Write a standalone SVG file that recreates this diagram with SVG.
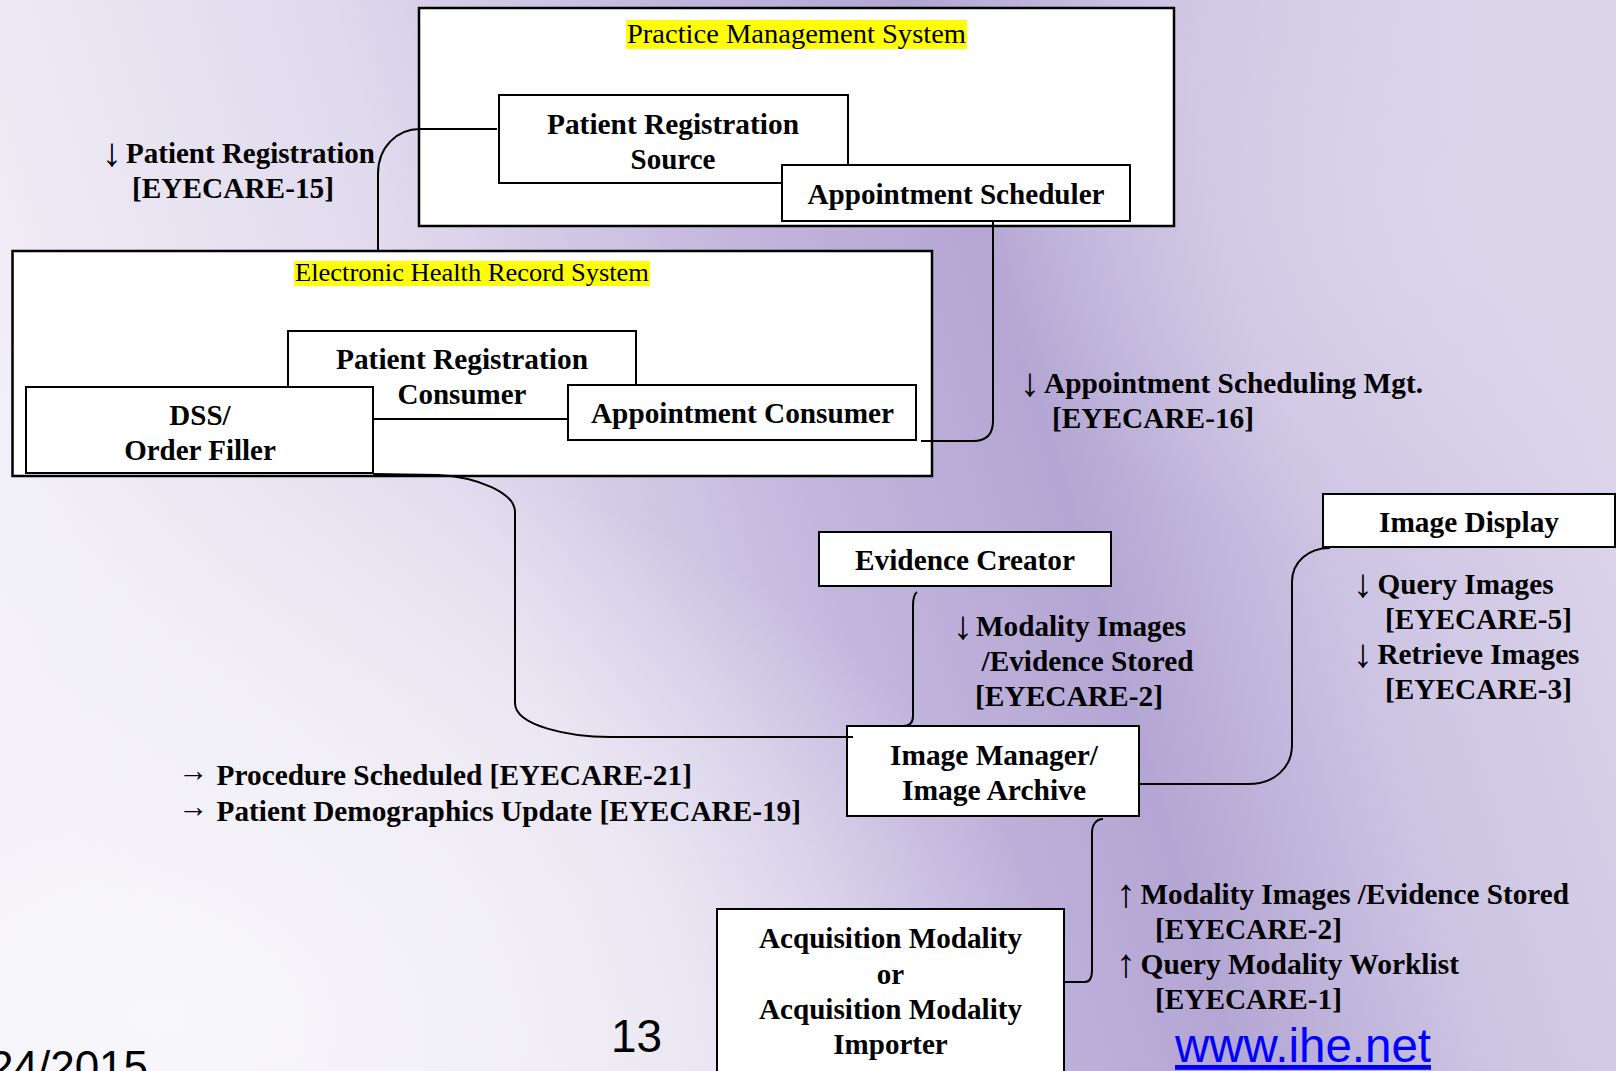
<svg xmlns="http://www.w3.org/2000/svg" width="1616" height="1071" viewBox="0 0 1616 1071">
<defs>
<linearGradient id="bg" x1="0" y1="0.55" x2="1" y2="0.35">
<stop offset="0" stop-color="#f3f1f8"/>
<stop offset="0.3" stop-color="#e0daed"/>
<stop offset="0.5" stop-color="#c2b6dd"/>
<stop offset="0.65" stop-color="#b3a6d4"/>
<stop offset="0.8" stop-color="#cdc4e3"/>
<stop offset="1" stop-color="#dcd5ea"/>
</linearGradient>
<radialGradient id="glow" cx="0.1" cy="0.95" r="0.55">
<stop offset="0" stop-color="#f8f7fb" stop-opacity="1"/>
<stop offset="0.6" stop-color="#f4f2f8" stop-opacity="0.6"/>
<stop offset="1" stop-color="#f4f2f8" stop-opacity="0"/>
</radialGradient>
<radialGradient id="glow2" cx="0.95" cy="0.2" r="0.35">
<stop offset="0" stop-color="#ddd6ea" stop-opacity="0.8"/>
<stop offset="1" stop-color="#ddd6ea" stop-opacity="0"/>
</radialGradient>
</defs>
<style>
.box{fill:#ffffff;stroke:#000000;stroke-width:2}
.sys{fill:#ffffff;stroke:#000000;stroke-width:2.5}
.hl{fill:#ffff00}
.t{font-family:"Liberation Serif","Times New Roman",serif;font-weight:bold;font-size:29px;fill:#000000}
.c{text-anchor:middle}
.s{font-family:"Liberation Serif","Times New Roman",serif;font-weight:normal;fill:#000000}
.ar{font-family:"Liberation Serif","Times New Roman",serif;font-weight:normal;font-size:40px;fill:#000000}
.rar{font-family:"Liberation Serif","Times New Roman",serif;font-weight:normal;font-size:32px;fill:#000000}
.conn path{fill:none;stroke:#000000;stroke-width:2}
.f{font-family:"Liberation Sans",Arial,sans-serif;fill:#000000}
</style>
<rect x="0" y="0" width="1616" height="1071" fill="url(#bg)"/>
<rect x="0" y="0" width="1616" height="1071" fill="url(#glow)"/>
<rect x="0" y="0" width="1616" height="1071" fill="url(#glow2)"/>

<g id="practice-management-system">
<rect class="sys" x="419" y="8" width="755" height="218"/>
<rect class="hl" x="626" y="20" width="341" height="29"/>
<text class="s" x="627" y="43" font-size="27" textLength="339" lengthAdjust="spacingAndGlyphs">Practice  Management System</text>
</g>
<g id="patient-registration-source">
<rect class="box" x="499" y="95" width="349" height="88"/>
<text class="t c" x="673" y="134" textLength="252" lengthAdjust="spacingAndGlyphs">Patient Registration</text>
<text class="t c" x="673" y="169">Source</text>
</g>
<g id="appointment-scheduler">
<rect class="box" x="782" y="165" width="348" height="56"/>
<text class="t c" x="956" y="204" textLength="297" lengthAdjust="spacingAndGlyphs">Appointment Scheduler</text>
</g>

<g id="electronic-health-record-system">
<rect class="sys" x="12.5" y="251" width="919.5" height="225"/>
<rect class="hl" x="294" y="261" width="356" height="25"/>
<text class="s" x="295" y="281" font-size="25" textLength="354" lengthAdjust="spacingAndGlyphs">Electronic  Health Record System</text>
</g>
<g id="patient-registration-consumer">
<rect class="box" x="288" y="331" width="348" height="88"/>
<text class="t c" x="462" y="369" textLength="252" lengthAdjust="spacingAndGlyphs">Patient Registration</text>
<text class="t c" x="462" y="404">Consumer</text>
</g>
<g id="dss-order-filler">
<rect class="box" x="26" y="387" width="347" height="86"/>
<text class="t c" x="200" y="425">DSS/</text>
<text class="t c" x="200" y="460">Order Filler</text>
</g>
<g id="appointment-consumer">
<rect class="box" x="568" y="385" width="348" height="55"/>
<text class="t c" x="742.5" y="423" textLength="303" lengthAdjust="spacingAndGlyphs">Appointment Consumer</text>
</g>

<g id="evidence-creator">
<rect class="box" x="819" y="532" width="292" height="54"/>
<text class="t c" x="965" y="570" textLength="220" lengthAdjust="spacingAndGlyphs">Evidence Creator</text>
</g>
<g id="image-manager-archive">
<rect class="box" x="847" y="726" width="292" height="90"/>
<text class="t c" x="994" y="765" textLength="208" lengthAdjust="spacingAndGlyphs">Image Manager/</text>
<text class="t c" x="994" y="800" textLength="184" lengthAdjust="spacingAndGlyphs">Image Archive</text>
</g>
<g id="image-display">
<rect class="box" x="1323" y="494" width="292" height="53"/>
<text class="t c" x="1469" y="532" textLength="180" lengthAdjust="spacingAndGlyphs">Image Display</text>
</g>
<g id="acquisition-modality">
<rect class="box" x="717" y="909" width="347" height="180"/>
<text class="t c" x="890.5" y="947.5" textLength="263" lengthAdjust="spacingAndGlyphs">Acquisition Modality</text>
<text class="t c" x="890.5" y="983.5">or</text>
<text class="t c" x="890.5" y="1018.5" textLength="263" lengthAdjust="spacingAndGlyphs">Acquisition Modality</text>
<text class="t c" x="890.5" y="1053.5">Importer</text>
</g>

<g id="connectors" class="conn">
<path d="M 497 129 L 420 129 C 397 129 378 147 378 174 L 378 252"/>
<path d="M 993 221 L 993 421 Q 993 441 973 441 L 921 441"/>
<path d="M 373 474 L 438 475 C 478 477 515 493 515 512 L 515 703 C 515 726 570 737 610 737 L 853 737"/>
<path d="M 917 592 C 914 594 913 598 913 606 L 913 716 C 913 722 910 726 903 726"/>
<path d="M 1139 784 L 1248 784 C 1274 784 1292 768 1292 745 L 1292 582 C 1292 562 1308 548 1330 548"/>
<path d="M 1063 982 L 1085 982 C 1089 982 1092 978 1092 970 L 1092 833 C 1092 825 1096 819 1103 819"/>
</g>

<g id="labels">
<text class="ar" x="102" y="166">↓</text>
<text class="t" x="126" y="163" textLength="249" lengthAdjust="spacingAndGlyphs">Patient Registration</text>
<text class="t" x="132" y="198" textLength="202" lengthAdjust="spacingAndGlyphs">[EYECARE-15]</text>
<text class="ar" x="1020" y="396">↓</text>
<text class="t" x="1044" y="393" textLength="379" lengthAdjust="spacingAndGlyphs">Appointment Scheduling Mgt.</text>
<text class="t" x="1052" y="428" textLength="202" lengthAdjust="spacingAndGlyphs">[EYECARE-16]</text>
<text class="rar" x="178" y="781" textLength="30" lengthAdjust="spacingAndGlyphs">→</text>
<text class="t" x="216.5" y="785" textLength="475.5" lengthAdjust="spacingAndGlyphs">Procedure Scheduled [EYECARE-21]</text>
<text class="rar" x="178" y="817" textLength="30" lengthAdjust="spacingAndGlyphs">→</text>
<text class="t" x="216.5" y="821" textLength="584.5" lengthAdjust="spacingAndGlyphs">Patient Demographics Update [EYECARE-19]</text>
<text class="ar" x="953" y="639">↓</text>
<text class="t" x="976" y="636" textLength="210" lengthAdjust="spacingAndGlyphs">Modality Images</text>
<text class="t" x="981.5" y="671" textLength="212" lengthAdjust="spacingAndGlyphs">/Evidence Stored</text>
<text class="t" x="975" y="706" textLength="188" lengthAdjust="spacingAndGlyphs">[EYECARE-2]</text>
<text class="ar" x="1353" y="597">↓</text>
<text class="t" x="1377.5" y="594" textLength="176" lengthAdjust="spacingAndGlyphs">Query Images</text>
<text class="t" x="1385" y="629" textLength="187" lengthAdjust="spacingAndGlyphs">[EYECARE-5]</text>
<text class="ar" x="1353" y="667">↓</text>
<text class="t" x="1377.5" y="664" textLength="202" lengthAdjust="spacingAndGlyphs">Retrieve Images</text>
<text class="t" x="1385" y="699" textLength="187" lengthAdjust="spacingAndGlyphs">[EYECARE-3]</text>
<text class="ar" x="1116" y="907">↑</text>
<text class="t" x="1140.5" y="904" textLength="428.5" lengthAdjust="spacingAndGlyphs">Modality Images /Evidence Stored</text>
<text class="t" x="1155" y="939" textLength="187" lengthAdjust="spacingAndGlyphs">[EYECARE-2]</text>
<text class="ar" x="1116" y="977">↑</text>
<text class="t" x="1140.5" y="974" textLength="318.5" lengthAdjust="spacingAndGlyphs">Query Modality Worklist</text>
<text class="t" x="1155" y="1009" textLength="187" lengthAdjust="spacingAndGlyphs">[EYECARE-1]</text>
</g>

<g id="footer">
<text class="f" x="611" y="1052" font-size="46" textLength="51" lengthAdjust="spacingAndGlyphs">13</text>
<text class="f" x="-11" y="1082" font-size="44">24/2015</text>
<text class="f" x="1175" y="1062" font-size="48" style="fill:#0000ff" text-decoration="underline" textLength="256" lengthAdjust="spacingAndGlyphs">www.ihe.net</text>
</g>
</svg>
